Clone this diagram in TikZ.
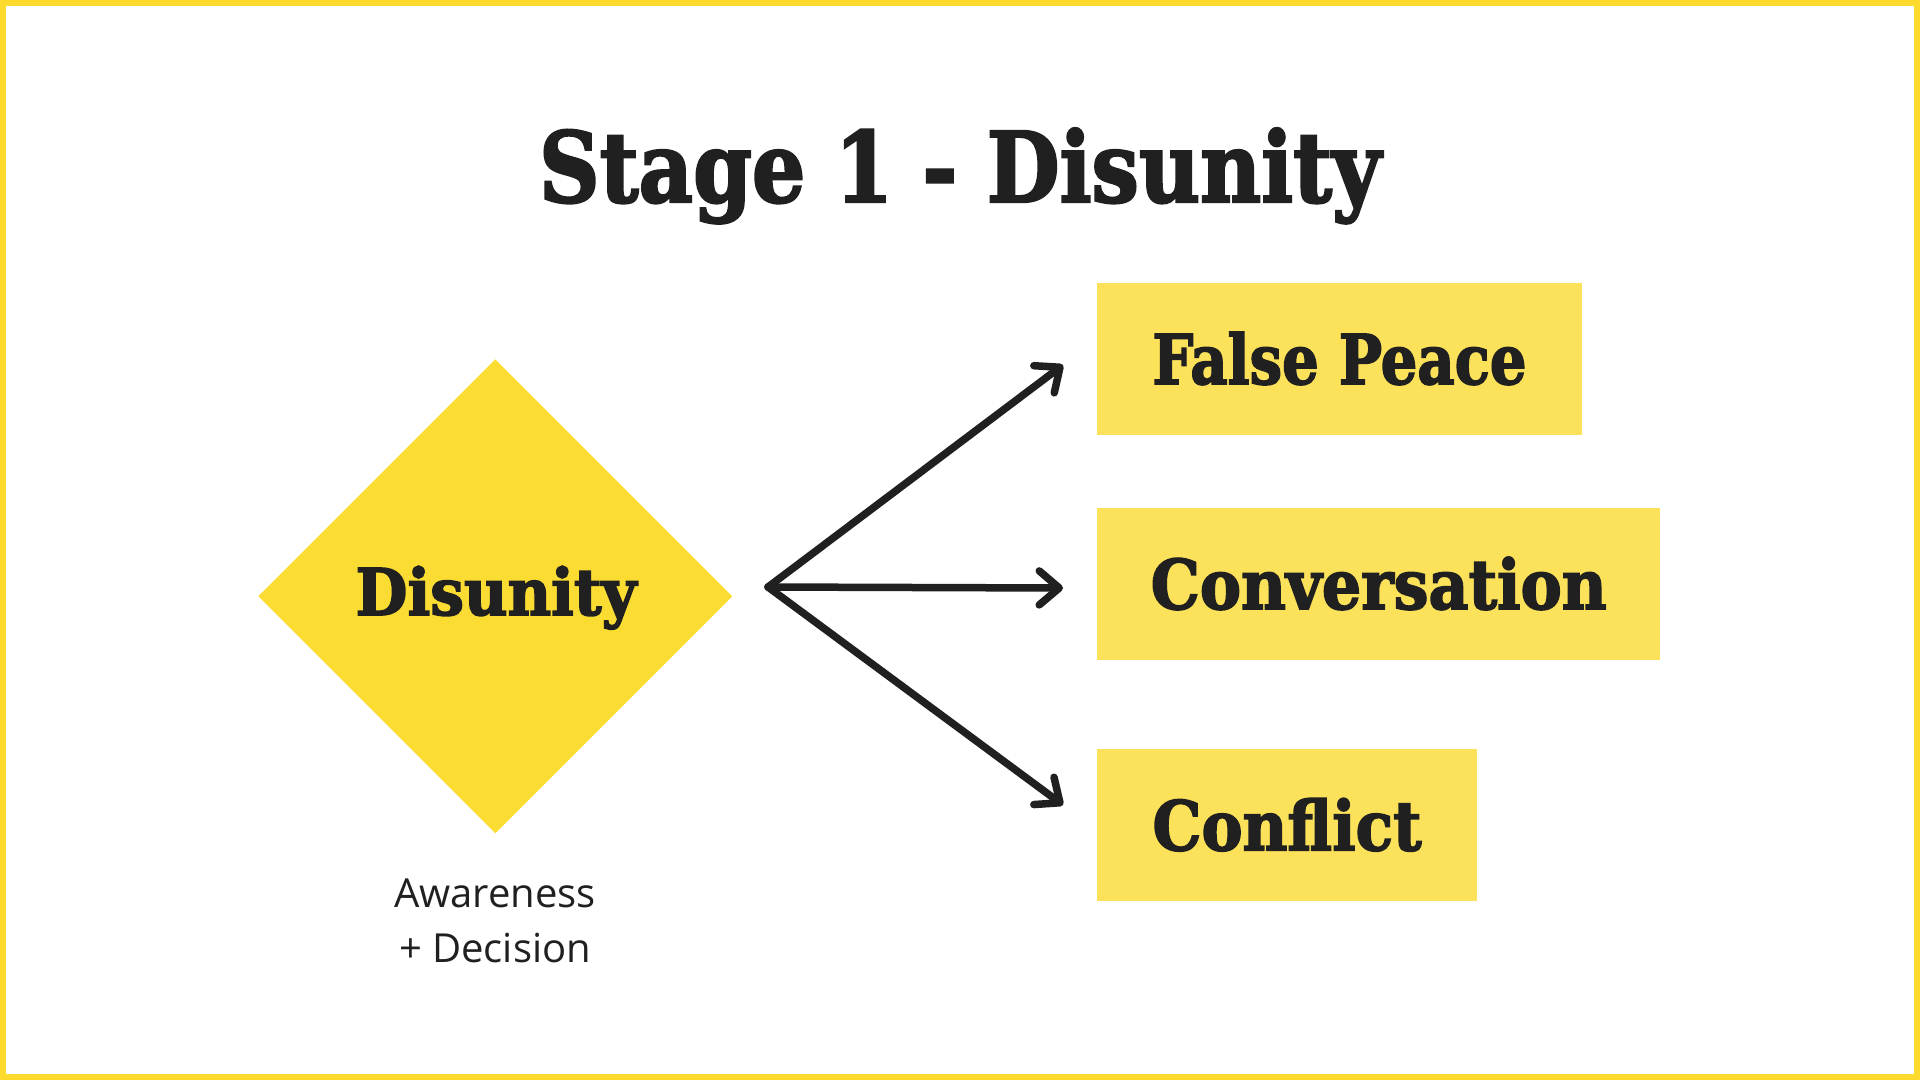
\documentclass[tikz,border=0pt]{standalone}
\usepackage{fontspec}
\usepackage{graphicx}
\usetikzlibrary{arrows.meta,shapes.geometric}
\newfontfamily\dispfont{DejaVu Serif}[BoldFeatures={FakeBold=2.5}]
\newfontfamily\bodyfont{Open Sans}
\definecolor{framey}{HTML}{FCDB2E}
\definecolor{diay}{HTML}{FBDC33}
\definecolor{boxy}{HTML}{FCE15A}
\definecolor{ink}{HTML}{202020}
\newcommand\fitto[3]{\resizebox{#1}{#2}{\raisebox{0pt}[\fontcharht\font`\H][0pt]{#3}}}
\begin{document}
\begin{tikzpicture}[x=1pt,y=-1pt,
  disp/.style={font=\dispfont\bfseries\fontsize{60}{60}\selectfont, text=ink, inner sep=0pt},
  outbox/.style={fill=boxy, draw=none, minimum height=152pt, inner sep=0pt},
  body/.style={font=\bodyfont\fontsize{40}{48}\selectfont, text=ink, inner sep=0pt, anchor=base},
  conn/.style={draw=ink, line width=7.5pt, line cap=round, line join=round,
    -{Straight Barb[length=20pt,width=34pt,round]}}
  ]
\useasboundingbox (0,0) rectangle (1920,1080);
\fill[white] (0,0) rectangle (1920,1080);
\draw[framey, line width=6pt] (3,3) rectangle (1917,1077);

\node[disp] (title) at (960,166.5) {\fitto{842pt}{71pt}{Stage 1 - Disunity}};

\node[diamond, fill=diay, draw=none, minimum width=474pt, minimum height=474pt, inner sep=0pt, aspect=1] (dia) at (495.3,596.3) {};
\node[disp] (dlabel) at (496,591.5) {\fitto{281pt}{47pt}{Disunity}};

\node[body] (aw1) at (495,907) {Awareness};
\node[body] (aw2) at (495,962) {+ Decision};

\node[outbox, minimum width=485pt, disp] (fp) at (1339.5,359) {\fitto{374pt}{50pt}{False Peace}};
\node[outbox, minimum width=563pt, disp] (cv) at (1378.7,584) {\fitto{456pt}{50pt}{Conversation}};
\node[outbox, minimum width=380pt, disp] (cf) at (1287,825.3) {\fitto{269pt}{50pt}{Conflict}};

\coordinate (fork) at (768,587);
\coordinate (t1) at (1063,365);
\coordinate (t2) at (1063,588);
\coordinate (t3) at (1063,805);
\draw[conn] (fork) -- (t1);
\draw[conn] (fork) -- (t2);
\draw[conn] (fork) -- (t3);
\end{tikzpicture}
\end{document}
